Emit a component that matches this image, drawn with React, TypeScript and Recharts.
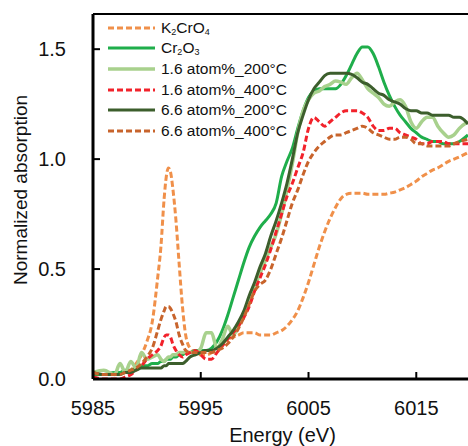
import React from 'react';
import { LineChart, Line, XAxis, YAxis, Legend, ReferenceLine } from 'recharts';

// energy grid (eV)
const energy = [
  5985, 5986, 5987, 5987.5, 5988, 5988.5, 5989, 5989.5, 5990, 5990.5,
  5991, 5991.3, 5991.6, 5991.8, 5992, 5992.2, 5992.4, 5992.7, 5993, 5993.3, 5993.6, 5994,
  5994.5, 5995, 5995.5, 5996, 5996.5, 5997, 5997.5, 5998, 5998.5, 5999, 5999.5,
  6000, 6000.5, 6001, 6001.5, 6002, 6002.5, 6003, 6003.5, 6004, 6004.5, 6005, 6005.5,
  6006, 6006.5, 6007, 6007.5, 6008, 6008.5, 6009, 6009.5, 6010, 6010.5, 6011, 6011.5,
  6012, 6012.5, 6013, 6013.5, 6014, 6014.5, 6015, 6015.5, 6016, 6016.5, 6017, 6017.5, 6018, 6018.5, 6019, 6019.8,
];

const k2cro4 = [
  0.02, 0.02, 0.02, 0.03, 0.03, 0.04, 0.07, 0.11, 0.17, 0.26,
  0.46, 0.6, 0.82, 0.92, 0.96, 0.94, 0.87, 0.72, 0.52, 0.33, 0.2, 0.14,
  0.12, 0.11, 0.11, 0.12, 0.14, 0.16, 0.18, 0.19, 0.2, 0.21, 0.21,
  0.21, 0.2, 0.2, 0.2, 0.21, 0.22, 0.24, 0.27, 0.31, 0.37, 0.44, 0.52,
  0.6, 0.67, 0.73, 0.78, 0.82, 0.84, 0.845, 0.845, 0.845, 0.84, 0.84, 0.84,
  0.84, 0.845, 0.85, 0.86, 0.87, 0.885, 0.9, 0.92, 0.935, 0.95, 0.96, 0.975, 0.99, 1.0, 1.01, 1.03,
];

const cr2o3 = [
  0.02, 0.02, 0.03, 0.03, 0.04, 0.04, 0.05, 0.06, 0.06, 0.07,
  0.07, 0.08, 0.08, 0.09, 0.09, 0.09, 0.1, 0.1, 0.11, 0.11, 0.12, 0.12,
  0.13, 0.13, 0.13, 0.14, 0.17, 0.22, 0.29, 0.37, 0.45, 0.53, 0.6,
  0.65, 0.69, 0.72, 0.75, 0.8, 0.92, 0.99, 1.05, 1.14, 1.22, 1.28, 1.31,
  1.32, 1.32, 1.32, 1.32, 1.34, 1.38, 1.43, 1.48, 1.51, 1.51, 1.48, 1.42,
  1.35, 1.29, 1.24, 1.2, 1.17, 1.14, 1.12, 1.1, 1.09, 1.08, 1.08, 1.07, 1.07, 1.07, 1.08, 1.11,
];

const low200 = [
  0.03, 0.04, 0.02, 0.07, 0.03, 0.08, 0.05, 0.12, 0.09, 0.1,
  0.11, 0.09, 0.08, 0.09, 0.1, 0.1, 0.11, 0.11, 0.12, 0.12, 0.12, 0.12,
  0.12, 0.14, 0.21, 0.21, 0.14, 0.18, 0.24, 0.2, 0.24, 0.3, 0.36,
  0.42, 0.48, 0.54, 0.6, 0.66, 0.75, 0.86, 0.98, 1.12, 1.22, 1.27, 1.3,
  1.31, 1.33, 1.34, 1.355, 1.35, 1.34, 1.37, 1.39, 1.36, 1.32, 1.3, 1.28,
  1.25, 1.24, 1.26, 1.27, 1.24, 1.17, 1.14, 1.17, 1.19, 1.19, 1.15, 1.12, 1.1, 1.11, 1.14, 1.17,
];

const low400 = [
  0.01, 0.0, 0.0, 0.0, 0.01, 0.02, 0.04, 0.06, 0.09, 0.11,
  0.13, 0.15, 0.19, 0.2, 0.2, 0.19, 0.16, 0.13, 0.11, 0.1, 0.11, 0.12,
  0.13, 0.11, 0.09, 0.09, 0.12, 0.15, 0.18, 0.21, 0.24, 0.28, 0.33,
  0.4, 0.46, 0.52, 0.59, 0.67, 0.75, 0.83, 0.89, 0.96, 1.03, 1.14, 1.19,
  1.17, 1.15, 1.17, 1.19, 1.21, 1.22, 1.22, 1.22, 1.21, 1.19, 1.15, 1.13,
  1.13, 1.14, 1.14, 1.12, 1.11, 1.1, 1.09, 1.07, 1.07, 1.08, 1.08, 1.08, 1.07, 1.07, 1.07, 1.07,
];

const high200 = [
  0.03, 0.02, 0.02, 0.02, 0.03, 0.03, 0.04, 0.05, 0.05, 0.05,
  0.05, 0.05, 0.06, 0.06, 0.07, 0.07, 0.07, 0.07, 0.07, 0.07, 0.08, 0.1,
  0.11, 0.12, 0.13, 0.13, 0.14, 0.16, 0.19, 0.22, 0.26, 0.31, 0.38,
  0.44, 0.51, 0.57, 0.65, 0.72, 0.8, 0.89, 1.0, 1.12, 1.2, 1.27, 1.32,
  1.35, 1.38, 1.39, 1.39, 1.39, 1.39, 1.385, 1.37, 1.35, 1.34, 1.32, 1.3,
  1.29, 1.27, 1.26, 1.25, 1.23, 1.22, 1.22, 1.21, 1.21, 1.2, 1.2, 1.2, 1.2, 1.19, 1.19, 1.16,
];

const high400 = [
  0.03, 0.02, 0.02, 0.02, 0.03, 0.04, 0.05, 0.07, 0.1, 0.14,
  0.22, 0.27, 0.31, 0.33, 0.33, 0.32, 0.3, 0.26, 0.2, 0.16, 0.13, 0.12,
  0.12, 0.12, 0.12, 0.12, 0.13, 0.14, 0.16, 0.19, 0.23, 0.28, 0.34,
  0.4, 0.43, 0.45, 0.5, 0.57, 0.64, 0.72, 0.8, 0.86, 0.93, 0.99, 1.03,
  1.06, 1.08, 1.1, 1.11, 1.11, 1.12, 1.13, 1.14, 1.15, 1.14, 1.12, 1.11,
  1.1, 1.09, 1.09, 1.1, 1.1, 1.09, 1.07, 1.07, 1.06, 1.06, 1.06, 1.06, 1.06, 1.07, 1.08, 1.09,
];

const xTicks = [5985, 5995, 6005, 6015];
const yTicks = [0, 0.5, 1.0, 1.5];

const data = energy.map((e, i) => ({
  e,
  k2cro4: k2cro4[i],
  cr2o3: cr2o3[i],
  low200: low200[i],
  low400: low400[i],
  high200: high200[i],
  high400: high400[i],
}));

const FONT = '"Liberation Sans", Arial, sans-serif';
const AXIS_X = 93;
const AXIS_Y = 379;

const subStyle: React.CSSProperties = { fontSize: 9, position: 'relative', top: 2, lineHeight: 0 };

const series = [
  { key: 'k2cro4', color: '#F0904A', dash: '6 3', width: 3, label: <>K<span style={subStyle}>2</span>CrO<span style={subStyle}>4</span></> },
  { key: 'cr2o3', color: '#1FAE4B', dash: undefined, width: 3, label: <>Cr<span style={subStyle}>2</span>O<span style={subStyle}>3</span></> },
  { key: 'low200', color: '#A8D18D', dash: undefined, width: 3.5, label: '1.6 atom%_200\u00B0C' },
  { key: 'low400', color: '#F2222B', dash: '6 3', width: 3, label: '1.6 atom%_400\u00B0C' },
  { key: 'high200', color: '#3C5E2C', dash: undefined, width: 3, label: '6.6 atom%_200\u00B0C' },
  { key: 'high400', color: '#C8642C', dash: '6 3', width: 3, label: '6.6 atom%_400\u00B0C' },
];

const YTick = (props: any) => {
  const { y, payload } = props;
  return (
    <g>
      <line x1={AXIS_X} x2={AXIS_X + 7} y1={y} y2={y} stroke="#000" strokeWidth={2} />
      <text x={66} y={y} dy={7} textAnchor="end" fontSize={20} fontFamily={FONT} fill="#111">
        {Number(payload.value).toFixed(1)}
      </text>
    </g>
  );
};

const XTick = (props: any) => {
  const { x, payload } = props;
  return (
    <g>
      <line x1={x} x2={x} y1={AXIS_Y} y2={AXIS_Y - 7} stroke="#000" strokeWidth={2} />
      <text x={x} y={415} textAnchor="middle" fontSize={20} fontFamily={FONT} fill="#111">
        {payload.value}
      </text>
    </g>
  );
};

const YLabel = () => (
  <text x={27} y={190} transform="rotate(-90 27 190)" textAnchor="middle" fontSize={19} fontFamily={FONT} fill="#111">
    Normalized absorption
  </text>
);

const LegendBox = () => (
  <div style={{ fontFamily: FONT, fontSize: 15.5, color: '#111' }}>
    {series.map((s) => (
      <div key={s.key} style={{ display: 'flex', alignItems: 'center', height: 20.6, lineHeight: '20px' }}>
        <svg width={47} height={6} style={{ marginRight: 6, display: 'block' }}>
          <line x1={0} y1={3} x2={47} y2={3} stroke={s.color} strokeWidth={s.width} strokeDasharray={s.dash} />
        </svg>
        <span>{s.label}</span>
      </div>
    ))}
  </div>
);

export default function App() {
  return (
    <div style={{ position: 'absolute', left: 0, top: 0, width: 468, height: 446, background: '#fff' }}>
      <LineChart width={468} height={446} data={data} margin={{ top: 14, right: 0, left: 0, bottom: 0 }}>
        <XAxis
          dataKey="e"
          type="number"
          domain={[5985, 6019.8]}
          ticks={xTicks}
          allowDataOverflow
          height={67}
          axisLine={{ stroke: '#000', strokeWidth: 3 }}
          tickLine={false}
          tick={<XTick />}
          label={{ value: 'Energy (eV)', position: 'insideBottom', offset: 4, fontSize: 20, fontFamily: FONT, fill: '#111', dx: 2 }}
        />
        <YAxis
          type="number"
          domain={[0, 1.66]}
          ticks={yTicks}
          allowDataOverflow
          width={93}
          axisLine={{ stroke: '#000', strokeWidth: 3 }}
          tickLine={false}
          tick={<YTick />}
          label={{ content: () => <YLabel /> }}
        />
        <ReferenceLine y={1.66} stroke="#000" strokeWidth={2} />
        {series.map((s) => (
          <Line
            key={s.key}
            type="monotone"
            dataKey={s.key}
            stroke={s.color}
            strokeWidth={s.width}
            strokeDasharray={s.dash}
            dot={false}
            isAnimationActive={false}
          />
        ))}
        <Legend
          verticalAlign="middle"
          align="center"
          layout="vertical"
          content={<LegendBox />}
          wrapperStyle={{ top: 17.5, left: 108, width: 'auto' }}
        />
      </LineChart>
    </div>
  );
}
